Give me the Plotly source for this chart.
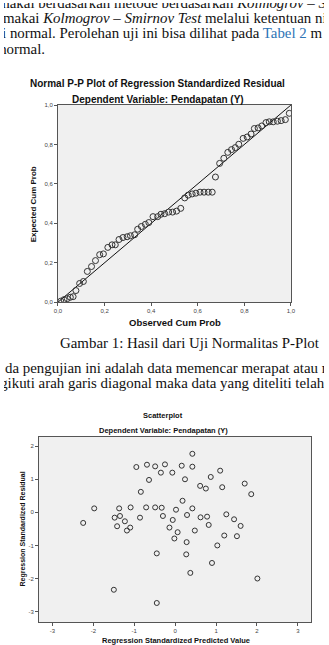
import plotly.graph_objects as go

W, H = 329, 645

# ---------- data ----------
pp_observed = [0.012, 0.026, 0.040, 0.053, 0.065, 0.077, 0.093, 0.109, 0.126, 0.144,
               0.161, 0.179, 0.195, 0.214, 0.232, 0.246, 0.262, 0.279, 0.297, 0.311,
               0.329, 0.342, 0.358, 0.375, 0.390, 0.408, 0.428, 0.442, 0.458, 0.475,
               0.492, 0.509, 0.527, 0.544, 0.559, 0.576, 0.592, 0.610, 0.627, 0.645,
               0.662, 0.676, 0.694, 0.712, 0.729, 0.745, 0.761, 0.776, 0.795, 0.812,
               0.829, 0.843, 0.859, 0.875, 0.893, 0.907, 0.924, 0.942, 0.958, 0.976, 0.993]
pp_expected = [0.005, 0.013, 0.018, 0.025, 0.028, 0.059, 0.095, 0.105, 0.156, 0.181,
               0.211, 0.241, 0.245, 0.278, 0.291, 0.291, 0.318, 0.328, 0.332, 0.337,
               0.342, 0.370, 0.384, 0.395, 0.404, 0.434, 0.434, 0.446, 0.449, 0.457,
               0.457, 0.462, 0.476, 0.529, 0.543, 0.549, 0.553, 0.558, 0.558, 0.558,
               0.558, 0.635, 0.704, 0.730, 0.760, 0.774, 0.784, 0.801, 0.831, 0.838,
               0.853, 0.881, 0.884, 0.894, 0.911, 0.915, 0.915, 0.918, 0.921, 0.926, 0.958]

sc_pred = [0.42, -0.95, -0.69, -0.49, -0.25, 0.16, 0.42, -0.35, -0.07, 1.10,
           -0.64, 0.24, 0.87, 0.61, 0.75, 1.15, 1.70, -0.84, 1.86,
           -1.98, -1.37, -1.09, -0.71, -0.49, -0.33, 0.18, 0.42, 0.02,
           -1.35, -1.48, -1.23, -0.86, -0.30, 0.29, 0.62, 0.78, 1.25, 1.44, -0.06,
           -2.25, -1.42, -1.10, -1.18, -0.14, 0.82, 1.60,
           0.06, 0.48, 1.20, 1.51, -0.02, 0.28, 1.03,
           -0.45, 0.27, 0.90, 0.37, 2.01, -1.50, -0.45]
sc_resid = [1.77, 1.37, 1.44, 1.39, 1.45, 1.41, 1.38, 1.20, 1.20, 1.26,
            0.98, 1.00, 1.07, 0.80, 0.72, 0.76, 0.87, 0.62, 0.55,
            0.12, 0.12, 0.15, 0.15, 0.15, 0.14, 0.35, 0.12, 0.08,
            -0.11, -0.16, -0.27, -0.16, -0.11, -0.08, -0.15, -0.13, -0.06, -0.21, -0.23,
            -0.32, -0.42, -0.46, -0.55, -0.46, -0.38, -0.41,
            -0.60, -0.55, -0.70, -0.72, -0.79, -0.90, -1.00,
            -1.24, -1.27, -1.53, -1.83, -2.00, -2.34, -2.74]

pp_ticks = [0.0, 0.2, 0.4, 0.6, 0.8, 1.0]
pp_ticktext = ["0,0", "0,2", "0,4", "0,6", "0,8", "1,0"]
sc_ticks = [-3, -2, -1, 0, 1, 2, 3]
sc_ticktext = ["-3", "-2", "-1", "0", "1", "2", "3"]

blue = "#2E75B6"
body_lines = [
    "makai berdasarkan metode berdasarkan <i>Kolmogrov – S</i>",
    "makai <i>Kolmogrov – Smirnov Test</i> melalui ketentuan ni",
    f"i normal. Perolehan uji ini bisa dilihat pada <span style='color:{blue}'>Tabel 2</span> m",
    "normal.",
    "da pengujian ini adalah data memencar merapat atau me",
    "gikuti arah garis diagonal maka data yang diteliti telah m",
]
# page layout of the body lines (anchor px, vertical centre px)
body_left = [-6, -1, -2, -5, 1, -4]
body_mid = [1, 16, 32, 48, 370, 385]


def px(x):
    return x / W


def py(y):
    return 1 - y / H


fig = go.Figure()

pp_marker = dict(symbol="circle-open", size=6, color="#333333", line=dict(width=1, color="#333333"))
sc_marker = dict(symbol="circle-open", size=5, color="#333333", line=dict(width=1, color="#333333"))

fig.add_trace(go.Scatter(x=[0, 1], y=[0, 1], mode="lines", line=dict(color="#111111", width=1),
                         xaxis="x", yaxis="y", showlegend=False, hoverinfo="skip"))
fig.add_trace(go.Scatter(x=pp_observed, y=pp_expected, mode="markers", marker=pp_marker,
                         xaxis="x", yaxis="y", showlegend=False))
fig.add_trace(go.Scatter(x=sc_pred, y=sc_resid, mode="markers", marker=sc_marker,
                         xaxis="x2", yaxis="y2", showlegend=False))

serif = "Liberation Serif, Times New Roman, serif"
sans = "Liberation Sans, Arial, sans-serif"

# body text on a full-page overlay axis (text-anchor start, clipped to the page)
fig.add_trace(go.Scatter(x=body_left, y=body_mid, text=body_lines, mode="text",
                         textposition="middle right",
                         textfont=dict(family=serif, size=14.9, color="#111111"),
                         xaxis="x3", yaxis="y3", cliponaxis=True,
                         showlegend=False, hoverinfo="skip"))

tickfont = dict(family=sans, size=6, color="#444444")
axcommon = dict(showgrid=False, zeroline=False, showline=True, mirror=True,
                linecolor="#555555", linewidth=1, ticks="outside", ticklen=3,
                tickcolor="#555555", tickfont=tickfont, fixedrange=True)

fig.update_layout(
    width=W, height=H,
    margin=dict(l=0, r=0, t=0, b=0),
    paper_bgcolor="white",
    plot_bgcolor="rgba(0,0,0,0)",
    xaxis=dict(domain=[px(55.5), px(295)], range=[0, 1], anchor="y",
               tickvals=pp_ticks, ticktext=pp_ticktext, **axcommon),
    yaxis=dict(domain=[py(302), py(103)], range=[0, 1], anchor="x",
               tickvals=pp_ticks, ticktext=pp_ticktext, **axcommon),
    xaxis2=dict(domain=[px(36), px(316)], range=[-3.33, 3.33], anchor="y2",
                tickvals=sc_ticks, ticktext=sc_ticktext, **axcommon),
    yaxis2=dict(domain=[py(625), py(438)], range=[-3.32, 2.28], anchor="x2",
                tickvals=sc_ticks, ticktext=sc_ticktext, **axcommon),
    xaxis3=dict(domain=[0, 1], range=[0, W], anchor="y3", visible=False, fixedrange=True),
    yaxis3=dict(domain=[0, 1], range=[H, 0], anchor="x3", visible=False, fixedrange=True),
    shapes=[
        dict(type="rect", xref="x domain", yref="y domain", x0=0, x1=1, y0=0, y1=1,
             fillcolor="#F0F0F0", line=dict(width=0), layer="below"),
        dict(type="rect", xref="x2 domain", yref="y2 domain", x0=0, x1=1, y0=0, y1=1,
             fillcolor="#F0F0F0", line=dict(width=0), layer="below"),
    ],
)

ann = []


def text(s, x, y, size=14.9, family=serif, angle=0, color="#111111"):
    ann.append(dict(text=s, x=px(x), y=py(y), xref="paper", yref="paper",
                    xanchor="center", yanchor="middle", showarrow=False,
                    borderpad=0, textangle=angle,
                    font=dict(family=family, size=size, color=color)))


# chart 1 titles
text("<b>Normal P-P Plot of Regression Standardized Residual</b>", 158, 81, size=10, family=sans)
text("<b>Dependent Variable: Pendapatan (Y)</b>", 158, 97, size=10, family=sans)
text("<b>Expected Cum Prob</b>", 30, 203, size=8, family=sans, angle=-90)
text("<b>Observed Cum Prob</b>", 176, 323, size=9.5, family=sans)

# caption
text("Gambar 1: Hasil dari Uji Normalitas P-Plot", 191, 343)

# chart 2 titles
text("<b>Scatterplot</b>", 163, 416, size=7.5, family=sans)
text("<b>Dependent Variable: Pendapatan (Y)</b>", 164, 432, size=7.5, family=sans)
text("<b>Regression Standardized Residual</b>", 20, 531, size=7, family=sans, angle=-90)
text("<b>Regression Standardized Predicted Value</b>", 177, 643, size=7.5, family=sans)

fig.update_layout(annotations=ann)

fig.write_html("out.html")
